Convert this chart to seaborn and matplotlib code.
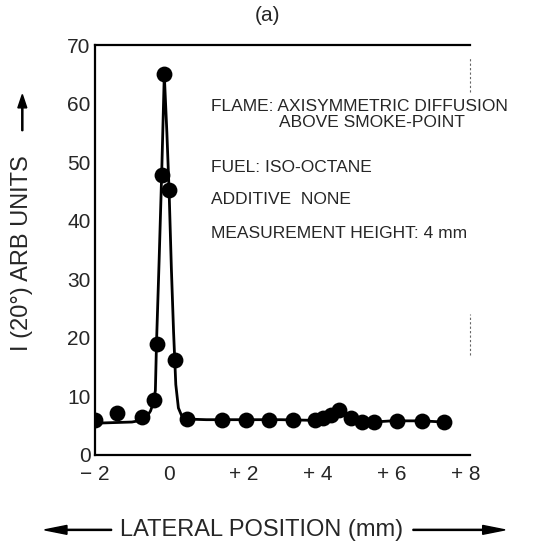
import numpy as np
import pandas as pd
import matplotlib
matplotlib.use("Agg")
import matplotlib.pyplot as plt
import seaborn as sns

pos_mm = [-2.0, -1.4, -0.74, -0.42, -0.33, -0.2, -0.13, 0.0, 0.15, 0.47,
          1.42, 2.06, 2.68, 3.33, 3.93, 4.15, 4.35, 4.58, 4.89, 5.2, 5.53,
          6.15, 6.8, 7.4]
intensity = [5.9, 7.1, 6.5, 9.3, 19.0, 47.8, 65.0, 45.2, 16.2, 6.2,
             6.0, 6.0, 5.9, 5.9, 5.9, 6.3, 6.8, 7.6, 6.3, 5.6, 5.6,
             5.8, 5.8, 5.6]

# hand-drawn curve through the data
curve_x = [-2.0, -1.5, -1.0, -0.75, -0.6, -0.5, -0.42, -0.37, -0.34, -0.27,
           -0.2, -0.13, -0.06, 0.0, 0.06, 0.12, 0.18, 0.25, 0.35, 0.5,
           1.0, 2.0, 3.0, 3.8, 4.1, 4.35, 4.58, 4.85, 5.1, 5.5, 6.0, 6.8, 7.4]
curve_y = [5.4, 5.5, 5.6, 5.9, 6.5, 7.5, 9.0, 11.0, 19.0, 33.0,
           48.0, 65.0, 55.0, 45.0, 32.0, 21.0, 12.0, 8.0, 6.5, 6.1,
           6.0, 6.0, 6.0, 5.9, 6.3, 6.8, 7.4, 6.4, 5.7, 5.6, 5.8, 5.8, 5.6]

x_ticks = [-2, 0, 2, 4, 6, 8]
x_labels = ["\u2212 2", "0", "+ 2", "+ 4", "+ 6", "+ 8"]
y_ticks = [0, 10, 20, 30, 40, 50, 60, 70]

notes = ["FLAME: AXISYMMETRIC DIFFUSION", "ABOVE SMOKE-POINT", "FUEL: ISO-OCTANE",
         "ADDITIVE  NONE", "MEASUREMENT HEIGHT: 4 mm"]

sns.set_style("white")
plt.rcParams["font.family"] = ["Liberation Sans", "DejaVu Sans"]

pts = pd.DataFrame({"x": pos_mm, "y": intensity})
crv = pd.DataFrame({"x": curve_x, "y": curve_y})

fig = plt.figure(figsize=(5.58, 5.56), dpi=100)
ax = fig.add_axes([0.170, 0.182, 0.672, 0.737])

sns.lineplot(data=crv, x="x", y="y", ax=ax, color="black", lw=2.0,
             sort=False, estimator=None)
sns.scatterplot(data=pts, x="x", y="y", ax=ax, color="black", s=130,
                edgecolor="black", linewidth=0, zorder=3)

ax.set_xlim(-2, 8.1)
ax.set_ylim(0, 70)
ax.set_xticks(x_ticks)
ax.set_xticklabels(x_labels)
ax.set_yticks(y_ticks)
ax.tick_params(axis="y", direction="in", length=8, width=1, labelsize=15, pad=3)
ax.tick_params(axis="x", direction="in", length=3, width=1, labelsize=15, pad=7)
ax.set_xlabel("")
ax.set_ylabel("")

for s in ["left", "bottom", "top"]:
    ax.spines[s].set_linewidth(1.6)
    ax.spines[s].set_color("black")
ax.spines["right"].set_visible(False)
# faint remnants of the right frame
ax.plot([8.1, 8.1], [62, 68], color="0.4", lw=0.8, ls=(0, (2, 2)), clip_on=False)
ax.plot([8.1, 8.1], [17, 24], color="0.4", lw=0.8, ls=(0, (2, 2)), clip_on=False)

fig.text(0.480, 0.972, "(a)", fontsize=15, ha="center", va="center")

fs = 12.5
ax.text(0.31, 0.850, notes[0], transform=ax.transAxes, fontsize=fs, va="center")
ax.text(0.49, 0.810, notes[1], transform=ax.transAxes, fontsize=fs, va="center")
ax.text(0.31, 0.702, notes[2], transform=ax.transAxes, fontsize=fs, va="center")
ax.text(0.31, 0.624, notes[3], transform=ax.transAxes, fontsize=fs, va="center")
ax.text(0.31, 0.540, notes[4], transform=ax.transAxes, fontsize=fs, va="center")

# axis labels with arrows
fig.text(0.040, 0.545, "I (20\u00b0) ARB UNITS", rotation=90, fontsize=17,
         ha="center", va="center")
fig.patches.append(matplotlib.patches.FancyArrow(
    0.040, 0.765, 0, 0.065, width=0.002, head_width=0.016, head_length=0.024,
    color="black", transform=fig.transFigure, length_includes_head=True))
fig.text(0.468, 0.047, "LATERAL POSITION (mm)", fontsize=17, ha="center", va="center")
fig.patches.append(matplotlib.patches.FancyArrow(
    0.200, 0.047, -0.120, 0, width=0.002, head_width=0.016, head_length=0.04,
    color="black", transform=fig.transFigure, length_includes_head=True))
fig.patches.append(matplotlib.patches.FancyArrow(
    0.740, 0.047, 0.165, 0, width=0.002, head_width=0.016, head_length=0.04,
    color="black", transform=fig.transFigure, length_includes_head=True))

fig.savefig("out.png", dpi=100)
